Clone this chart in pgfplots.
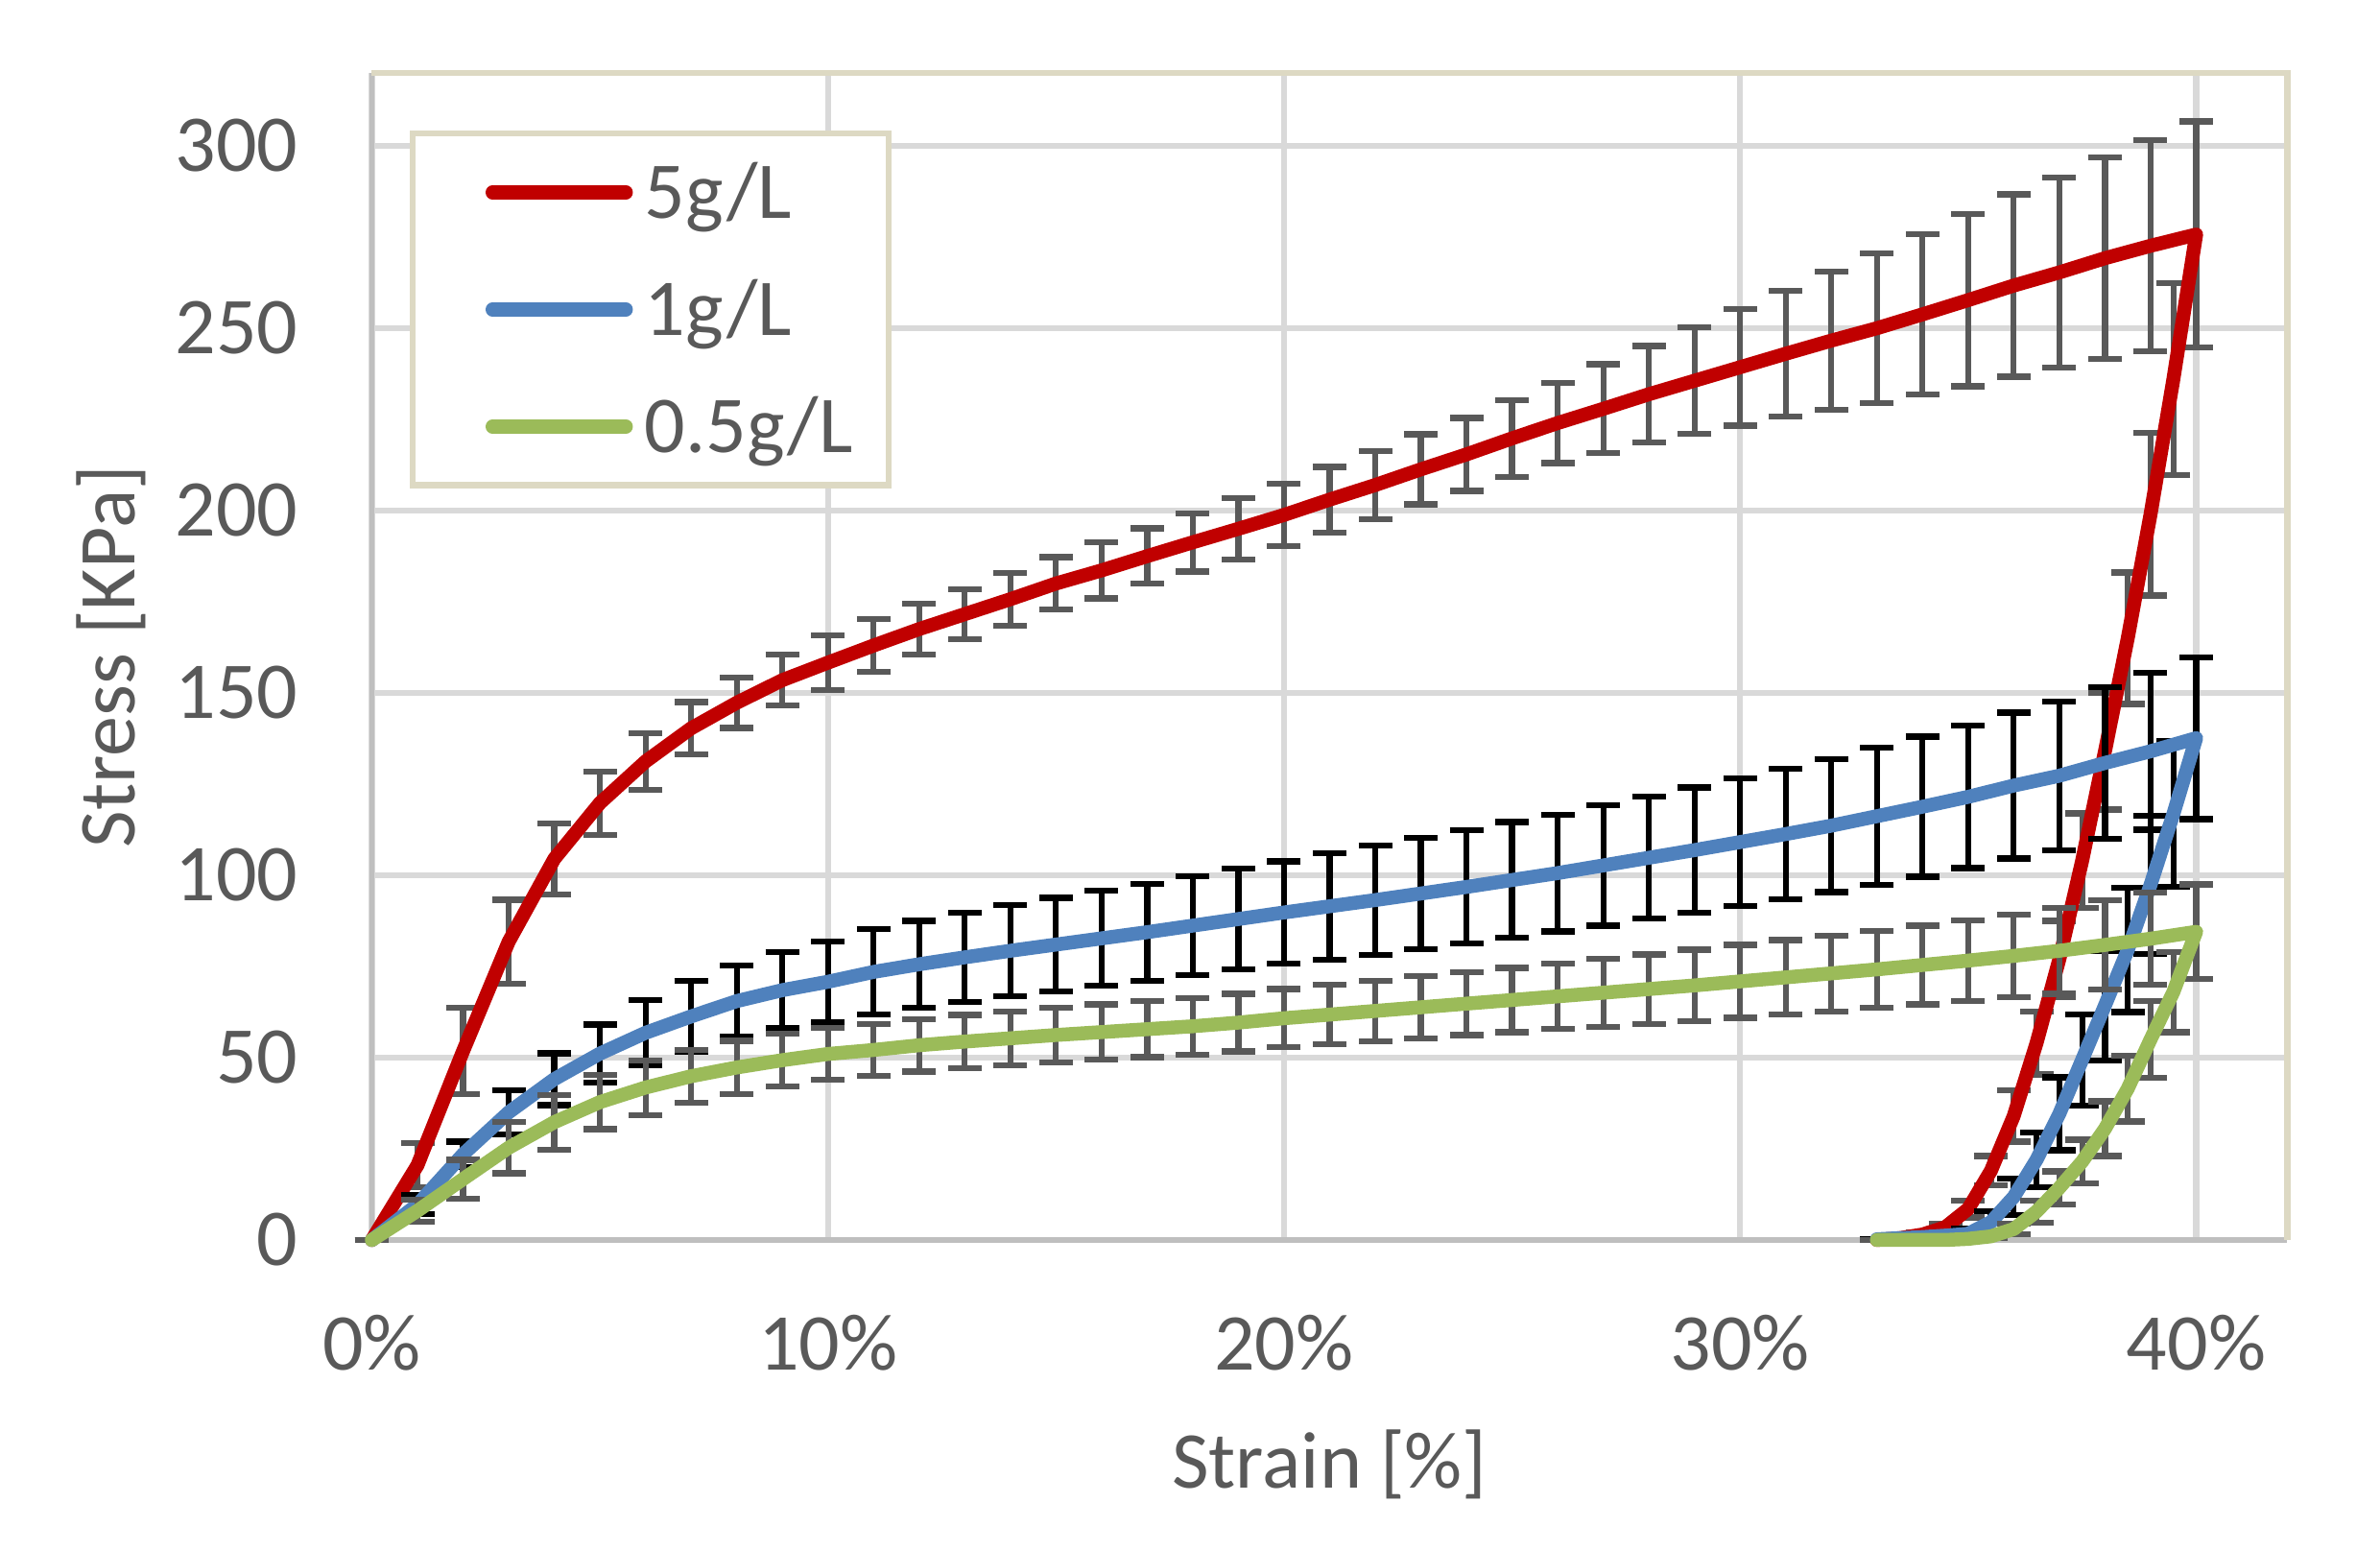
\documentclass[border=0pt]{standalone}
\usepackage{pgfplots}
\pgfplotsset{compat=1.18}
\usepackage{pgfplotstable}
\usepackage{fontspec}
\setmainfont{Carlito}
\definecolor{cred}{HTML}{C00000}
\definecolor{cblue}{HTML}{4F81BD}
\definecolor{cgreen}{HTML}{9BBB59}
\definecolor{egray}{HTML}{595959}
\definecolor{gridc}{HTML}{D9D9D9}
\definecolor{axisc}{HTML}{BFBFBF}
\definecolor{framec}{HTML}{DDD9C3}
\definecolor{txt}{HTML}{595959}

% strain [%], stress [kPa], error [kPa]
\pgfplotstableread{
x y e
0 0 0
1 20.5 6
2 51.8 11.9
3 81.8 11.5
4 104.5 9.7
5 119.8 8.7
6 131.2 7.7
7 140.3 7.2
8 147.3 6.9
9 153.5 7
10 158.3 7.5
11 163 7.2
12 167.5 7
13 171.6 6.9
14 175.7 7.2
15 180 7.2
16 183.6 7.7
17 187.5 7.6
18 191.3 8
19 195 8.4
20 198.8 8.6
21 203 9
22 207 9.4
23 211.3 9.6
24 215.4 10
25 219.8 10.5
26 224 11
27 227.9 12.2
28 231.9 13.2
29 235.6 14.6
30 239.3 16
31 243 17.3
32 246.6 19
33 250 20.5
34 253.8 22
35 257.7 23.6
36 261.7 25
37 265.3 26
38 269.2 27.7
39 272.6 29
40 275.7 31
39.5 236 26.3
39 199 22.3
38.5 165 18
38 134 16
37.5 104 13
37 77 10.5
36.5 54 8.6
36 34 7
35.5 19 4
35 8.5 2.3
34.5 3.5 1
34 1.5 0.5
33.5 0.5 0.3
33 0 0
}\tabA

\pgfplotstableread{
x y e
0 0 0
1 9.7 2.6
2 23.5 3.5
3 35 6
4 44.1 7.1
5 51.1 8
6 56.8 9
7 61.3 9.8
8 65.5 9.8
9 68.5 10.5
10 70.8 11
11 73.5 11.7
12 75.6 11.9
13 77.5 12.2
14 79.3 12.5
15 81 12.8
16 82.7 13
17 84.4 13.3
18 86.2 13.5
19 88 13.8
20 89.8 14
21 91.5 14.6
22 93.2 15
23 95 15.3
24 96.8 15.5
25 98.7 15.9
26 100.6 16
27 102.7 16.5
28 104.8 16.7
29 106.9 17.2
30 109.1 17.5
31 111.3 17.9
32 113.6 18.2
33 116.2 18.8
34 118.8 19.2
35 121.5 19.5
36 124.6 20
37 127.3 20.4
38 130.8 20.8
39 134 21.5
40 137.6 22.2
39.5 116.8 20
39 97.4 19
38.5 79.5 17
38 64.3 15
37.5 49.4 12.5
37 34.6 10
36.5 22 7.5
36 11.8 5
35.5 4.9 3
35 1.7 1.5
34.5 1.2 0.8
34 0.8 0.5
33.5 0.5 0.3
33 0.2 0
}\tabB

\pgfplotstableread{
x y e
0 0 0
1 8 3
2 16.7 5.3
3 25.3 7
4 32.3 7.5
5 37.8 7.4
6 41.8 7.5
7 44.9 7.2
8 47.3 7.3
9 49.3 7.2
10 51 7.1
11 52.1 7.2
12 53.4 7.2
13 54.4 7.3
14 55.3 7.4
15 56.2 7.5
16 57 7.6
17 57.8 7.7
18 58.6 7.8
19 59.6 7.9
20 60.8 8
21 61.8 8.2
22 62.8 8.3
23 63.8 8.5
24 64.8 8.6
25 65.8 8.8
26 66.8 9
27 67.8 9.3
28 68.8 9.5
29 69.8 9.8
30 70.9 10
31 72 10.2
32 73.1 10.4
33 74.2 10.6
34 75.4 10.8
35 76.6 11
36 77.9 11.4
37 79.3 11.8
38 80.9 12.2
39 82.6 12.6
40 84.5 13
39.5 68 11
39 55 10.5
38.5 41.5 9
38 30.5 7.5
37.5 21.5 6
37 14.3 4.5
36.5 7.8 3
36 3 1.5
35.5 1 0.5
35 0.3 0.2
34.5 0 0
34 0 0
33.5 0 0
33 0 0
}\tabC

\pgfplotsset{
  ebar/.style={forget plot, draw=none, mark=none,
    error bars/.cd, y dir=both, y explicit, error mark=-,
    error bar style={draw=#1, line width=1.25pt, solid},
    error mark options={rotate=90, draw=#1, line width=1.25pt, mark size=3.5pt, solid}},
  curve/.style={draw=#1, line width=2.9pt, line join=round, line cap=round, mark=none},
}

\begin{document}
\fontsize{16.8pt}{20pt}\selectfont
\begin{tikzpicture}
\begin{axis}[
  at={(0,0)}, anchor=south west,
  scale only axis, width=399.2pt, height=243.2pt,
  xmin=0, xmax=42, ymin=0, ymax=320,
  clip=false,
  axis line style={draw=none},
  major tick length=0pt,
  xtick={0,10,20,30,40},
  xticklabels={0\%,10\%,20\%,30\%,40\%},
  ytick={0,50,100,150,200,250,300},
  yticklabels={0,50,100,150,200,250,300},
  grid=major,
  major grid style={draw=gridc, line width=1.25pt},
  xticklabel style={inner sep=0pt, anchor=north, yshift=-15.5pt, text=txt},
  yticklabel style={inner sep=0pt, anchor=east, xshift=-15.2pt, text=txt},
  xlabel={Strain [\%]},
  ylabel={Stress [KPa]},
  xlabel style={at={(axis description cs:0.5,0)}, anchor=base, yshift=-51.8pt, text=txt, inner sep=0pt},
  ylabel style={at={(axis description cs:-0.124,0.5)}, anchor=base, text=txt, inner sep=0pt},
  legend style={at={(rel axis cs:0,1)}, anchor=north west, xshift=7.9pt, yshift=-12pt,
    draw=framec, line width=1.3pt, fill=white, inner xsep=7.5pt, inner ysep=3.3pt,
    row sep=6.5pt,
    nodes={inner sep=0pt, text height=14.4pt, text depth=3.5pt, text=txt},
    /tikz/every odd column/.append style={column sep=2.5pt}},
  legend cell align=left,
  legend image code/.code={%
    \path[draw=none, fill=none] (0pt,-2pt) rectangle (38.3pt,2pt);
    \draw[#1, line width=2.9pt, line cap=round] (9.1pt,0pt) -- (36.9pt,0pt);},
]
\draw[axisc, line width=1.1pt] (rel axis cs:0,1) -- (rel axis cs:0,0) -- (rel axis cs:1,0);
\draw[framec, line width=1.3pt] (rel axis cs:0,1) -- (rel axis cs:1,1) -- (rel axis cs:1,0);

\addplot[ebar=egray] table[x=x, y=y, y error=e] {\tabA};
\addplot[curve=cred] table[x=x, y=y] {\tabA};
\addlegendentry{5g/L}

\addplot[ebar=black] table[x=x, y=y, y error=e] {\tabB};
\addplot[curve=cblue] table[x=x, y=y] {\tabB};
\addlegendentry{1g/L}

\addplot[ebar=egray] table[x=x, y=y, y error=e] {\tabC};
\addplot[curve=cgreen] table[x=x, y=y] {\tabC};
\addlegendentry{0.5g/L}
\end{axis}
\pgfresetboundingbox
\path[use as bounding box] (-77.5pt,-64.6pt) rectangle (418.5pt,258.4pt);
\end{tikzpicture}
\end{document}
